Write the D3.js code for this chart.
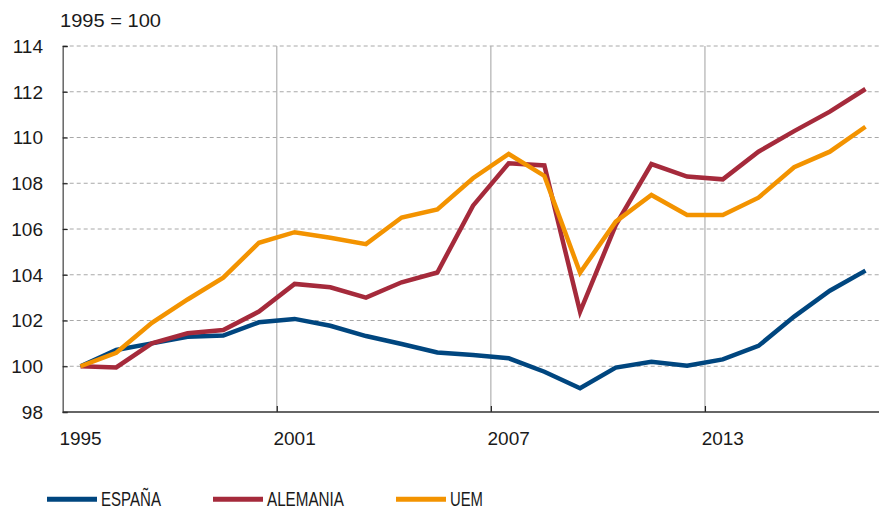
<!DOCTYPE html>
<html>
<head>
<meta charset="utf-8">
<script src="https://cdn.jsdelivr.net/npm/d3@7"></script>
<style>
  html, body { margin: 0; padding: 0; background: #fff; }
  svg { display: block; }
  text { font-family: "Liberation Sans", Arial, Helvetica, sans-serif; fill: #1a1a1a; }
</style>
</head>
<body>
<svg id="chart" width="879" height="510"></svg>
<script>
const years = d3.range(1995, 2018);
const espana = [100, 100.71, 101.0, 101.29, 101.34, 101.92, 102.07, 101.77, 101.32, 100.97, 100.6, 100.49, 100.35, 99.76, 99.04, 99.94, 100.2, 100.02, 100.3, 100.89, 102.17, 103.3, 104.18];
const alemania = [100, 99.95, 101.0, 101.44, 101.58, 102.39, 103.6, 103.45, 103.0, 103.67, 104.1, 107.02, 108.87, 108.78, 102.38, 106.17, 108.84, 108.29, 108.17, 109.38, 110.28, 111.13, 112.12];
const uem = [100, 100.59, 101.9, 102.92, 103.87, 105.4, 105.86, 105.62, 105.34, 106.5, 106.86, 108.22, 109.28, 108.32, 104.09, 106.32, 107.49, 106.61, 106.61, 107.37, 108.7, 109.38, 110.47];
const yTicks = [98, 100, 102, 104, 106, 108, 110, 112, 114];
const xLabelYears = [1995, 2001, 2007, 2013];
const seriesNames = ["ESPAÑA", "ALEMANIA", "UEM"];
const seriesColors = ["#00467f", "#a52a3b", "#f39300"];
const seriesData = [espana, alemania, uem];
const unitLabel = "1995 = 100";

(function () {
const svg = d3.select("#chart");
const mLeft = 62.7, mRight = 879, mTop = 46, mBottom = 412;

const x = d3.scaleLinear().domain([1994.5, 2017.5]).range([mLeft, mLeft + 23 * 35.68]);
const y = d3.scaleLinear().domain([98, 114]).range([mBottom, mTop]);

// horizontal dashed gridlines
svg.append("g").selectAll("line").data(yTicks.filter(d => d > 98)).join("line")
  .attr("x1", mLeft).attr("x2", mRight)
  .attr("y1", d => y(d)).attr("y2", d => y(d))
  .attr("stroke", "#a8a8a8").attr("stroke-width", 1)
  .attr("stroke-dasharray", "4,3");

// vertical gridlines
svg.append("g").selectAll("line").data(xLabelYears.slice(1)).join("line")
  .attr("x1", d => x(d - 0.5)).attr("x2", d => x(d - 0.5))
  .attr("y1", mTop).attr("y2", mBottom)
  .attr("stroke", "#b0b0b0").attr("stroke-width", 1.2);

// y axis
const yAxis = d3.axisRight(y).tickValues(yTicks).tickSize(5).tickFormat("");
const ya = svg.append("g").attr("transform", `translate(${mLeft},0)`).call(yAxis);
ya.select(".domain").attr("stroke", "#666").attr("stroke-width", 1.5);
ya.selectAll(".tick line").attr("stroke", "#222").attr("stroke-width", 1.2);

svg.append("g").selectAll("text").data(yTicks).join("text")
  .attr("x", 43).attr("y", d => y(d)).attr("dy", "0.36em")
  .attr("text-anchor", "end").style("font-size", "19px")
  .text(d => d);

// x axis
const xAxis = d3.axisTop(x).tickValues(xLabelYears.slice(1).map(d => d - 0.5)).tickSize(6).tickFormat("");
const xa = svg.append("g").attr("transform", `translate(0,${mBottom})`).call(xAxis);
xa.select(".domain").remove();
xa.selectAll(".tick line").attr("stroke", "#222").attr("stroke-width", 1.2);
svg.append("line").attr("x1", mLeft).attr("x2", mRight).attr("y1", mBottom).attr("y2", mBottom)
  .attr("stroke", "#333").attr("stroke-width", 1.3);

svg.append("g").selectAll("text").data(xLabelYears).join("text")
  .attr("x", d => x(d)).attr("y", 445)
  .attr("text-anchor", "middle").style("font-size", "19px")
  .text(d => d);

svg.append("text").attr("x", 60).attr("y", 27).style("font-size", "18px")
  .attr("textLength", 101).attr("lengthAdjust", "spacingAndGlyphs").text(unitLabel);

// lines
const line = d3.line().x((d, i) => x(years[i])).y(d => y(d));
svg.append("g").selectAll("path").data(seriesData).join("path")
  .attr("d", d => line(d))
  .attr("fill", "none")
  .attr("stroke", (d, i) => seriesColors[i])
  .attr("stroke-width", 4.5)
  .attr("stroke-linejoin", "miter");

// legend
const legendLineX = [47, 213, 396];
const legendTextW = [60, 77, 33];
const lg = svg.append("g");
seriesNames.forEach((name, i) => {
  lg.append("line").attr("x1", legendLineX[i]).attr("x2", legendLineX[i] + 50)
    .attr("y1", 499.3).attr("y2", 499.3)
    .attr("stroke", seriesColors[i]).attr("stroke-width", 5);
  lg.append("text").attr("x", legendLineX[i] + 54).attr("y", 506)
    .style("font-size", "19.5px")
    .attr("textLength", legendTextW[i]).attr("lengthAdjust", "spacingAndGlyphs")
    .text(name);
});
})();
</script>
</body>
</html>
